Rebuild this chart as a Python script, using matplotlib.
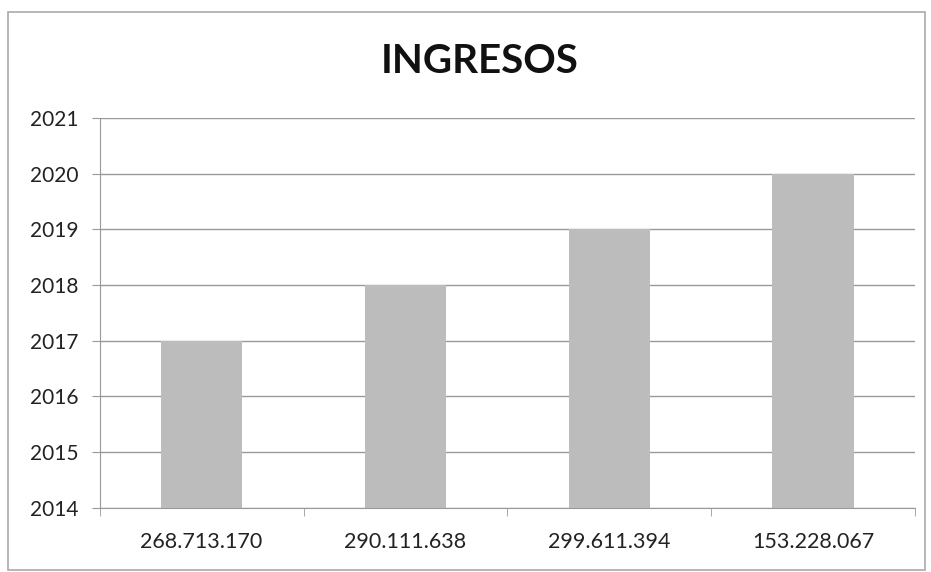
import numpy as np
import matplotlib.pyplot as plt
from matplotlib.patches import Rectangle

# chart data
ingresos = ['268.713.170', '290.111.638', '299.611.394', '153.228.067']
anios = [2017, 2018, 2019, 2020]
y_ticks = [2014, 2015, 2016, 2017, 2018, 2019, 2020, 2021]

plt.rcParams['font.family'] = ['Lato', 'DejaVu Sans']

fig = plt.figure(figsize=(9.31, 5.72), dpi=100)
ax = fig.add_axes([0.107, 0.112, 0.876, 0.682])

x = np.arange(len(ingresos))
ax.bar(x, np.array(anios) - 2014, bottom=2014, width=0.4, color='#bcbcbc', zorder=2)

ax.set_xlim(-0.5, 3.5)
ax.set_ylim(2014, 2021)
ax.set_yticks(y_ticks)
ax.set_yticklabels([str(t) for t in y_ticks], fontsize=15, color='#222222')
ax.set_xticks(x)
ax.set_xticklabels(ingresos, fontsize=15.5, color='#222222')
ax.tick_params(axis='x', length=0, pad=17)
ax.set_xticks(np.arange(-0.5, 4, 1), minor=True)
ax.tick_params(axis='x', which='minor', length=6, color='#999999')
ax.tick_params(axis='y', length=6, color='#999999', pad=9)

ax.grid(axis='y', color='#999999', linewidth=1, zorder=1)
for s in ['top', 'right']:
    ax.spines[s].set_visible(False)
for s in ['left', 'bottom']:
    ax.spines[s].set_color('#999999')

fig.text(0.515, 0.892, 'INGRESOS', ha='center', va='center', fontsize=29,
         fontweight='bold', color='#111111')

# outer chart border
fig.patches.append(Rectangle((0.009, 0.004), 0.985, 0.975, transform=fig.transFigure,
                             fill=False, edgecolor='#aaaaaa', linewidth=1.2))

fig.savefig('out.png', dpi=100)
